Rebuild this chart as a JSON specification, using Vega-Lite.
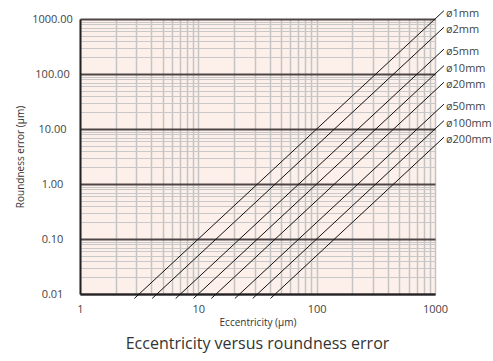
{
  "$schema": "https://vega.github.io/schema/vega-lite/v6.json",
  "width": 355,
  "height": 275,
  "autosize": "none",
  "padding": {"left": 80, "top": 19, "right": 58, "bottom": 67},
  "background": "#ffffff",
  "config": {
    "view": {"fill": "#fdf0ea", "stroke": null},
    "font": "Open Sans"
  },
  "title": {
    "text": "Eccentricity versus roundness error",
    "orient": "bottom",
    "anchor": "middle",
    "fontSize": 16,
    "fontWeight": "normal",
    "font": "Open Sans",
    "color": "#333333",
    "offset": 9
  },
  "datasets": {
    "lines": [
      {"d": "ø1mm", "e": 2.881, "r": 0.0083}, {"d": "ø1mm", "e": 1190, "r": 1416.1},
      {"d": "ø2mm", "e": 4.074, "r": 0.0083}, {"d": "ø2mm", "e": 1190, "r": 708.05},
      {"d": "ø5mm", "e": 6.442, "r": 0.0083}, {"d": "ø5mm", "e": 1190, "r": 283.22},
      {"d": "ø10mm", "e": 9.110, "r": 0.0083}, {"d": "ø10mm", "e": 1190, "r": 141.61},
      {"d": "ø20mm", "e": 12.884, "r": 0.0083}, {"d": "ø20mm", "e": 1190, "r": 70.81},
      {"d": "ø50mm", "e": 20.372, "r": 0.0083}, {"d": "ø50mm", "e": 1190, "r": 28.32},
      {"d": "ø100mm", "e": 28.810, "r": 0.0083}, {"d": "ø100mm", "e": 1190, "r": 14.16},
      {"d": "ø200mm", "e": 40.743, "r": 0.0083}, {"d": "ø200mm", "e": 1190, "r": 7.08}
    ],
    "labels": [
      {"d": "ø1mm", "e": 1190, "r": 1416.1},
      {"d": "ø2mm", "e": 1190, "r": 708.05},
      {"d": "ø5mm", "e": 1190, "r": 283.22},
      {"d": "ø10mm", "e": 1190, "r": 141.61},
      {"d": "ø20mm", "e": 1190, "r": 70.81},
      {"d": "ø50mm", "e": 1190, "r": 28.32},
      {"d": "ø100mm", "e": 1190, "r": 14.16},
      {"d": "ø200mm", "e": 1190, "r": 7.08}
    ]
  },
  "encoding": {
    "x": {
      "field": "e",
      "type": "quantitative",
      "scale": {"type": "log", "domain": [1, 1000], "nice": false},
      "axis": {
        "title": "Eccentricity (µm)",
        "titleFontSize": 10,
        "titleFontWeight": "normal",
        "titleColor": "#333333",
        "titlePadding": 3,
        "values": [1,2,3,4,5,6,7,8,9,10,20,30,40,50,60,70,80,90,100,200,300,400,500,600,700,800,900,1000],
        "labelExpr": "(datum.value==1||datum.value==10||datum.value==100||datum.value==1000) ? format(datum.value,'d') : ''",
        "labelFontSize": 11,
        "labelColor": "#444444",
        "labelPadding": 9,
        "labelFlush": false,
        "labelOverlap": false,
        "ticks": false,
        "grid": true,
        "gridColor": "#c4c4c4",
        "gridWidth": 1.5,
        "gridOpacity": 1,
        "domainColor": "#222222",
        "domainWidth": 2
      }
    },
    "y": {
      "field": "r",
      "type": "quantitative",
      "scale": {"type": "log", "domain": [0.01, 1000], "nice": false},
      "axis": {
        "title": "Roundness error (µm)",
        "titleFontSize": 10,
        "titleFontWeight": "normal",
        "titleColor": "#333333",
        "titlePadding": 6,
        "values": [0.01,0.02,0.03,0.04,0.05,0.06,0.07,0.08,0.09,0.1,0.2,0.3,0.4,0.5,0.6,0.7,0.8,0.9,1,2,3,4,5,6,7,8,9,10,20,30,40,50,60,70,80,90,100,200,300,400,500,600,700,800,900,1000],
        "labelExpr": "abs(log(datum.value)/LN10 - round(log(datum.value)/LN10)) < 1e-6 ? format(datum.value,'.2f') : ''",
        "labelFontSize": 11,
        "labelColor": "#444444",
        "labelAlign": "center",
        "labelPadding": 28,
        "labelFlush": false,
        "labelOverlap": false,
        "ticks": false,
        "grid": true,
        "gridColor": {"condition": {"test": "abs(log(datum.value)/LN10 - round(log(datum.value)/LN10)) < 1e-6", "value": "#4e4646"}, "value": "#c8c8c8"},
        "gridWidth": {"condition": {"test": "abs(log(datum.value)/LN10 - round(log(datum.value)/LN10)) < 1e-6", "value": 2}, "value": 1},
        "gridOpacity": 1,
        "domainColor": "#222222",
        "domainWidth": 2
      }
    }
  },
  "layer": [
    {
      "data": {"name": "lines"},
      "mark": {"type": "line", "color": "#111111", "strokeWidth": 1, "clip": false},
      "encoding": {"detail": {"field": "d", "type": "nominal"}}
    },
    {
      "data": {"name": "labels"},
      "mark": {"type": "text", "align": "left", "baseline": "middle", "dx": 2, "dy": 3, "fontSize": 11, "color": "#444444", "clip": false},
      "encoding": {"text": {"field": "d", "type": "nominal"}}
    }
  ]
}
